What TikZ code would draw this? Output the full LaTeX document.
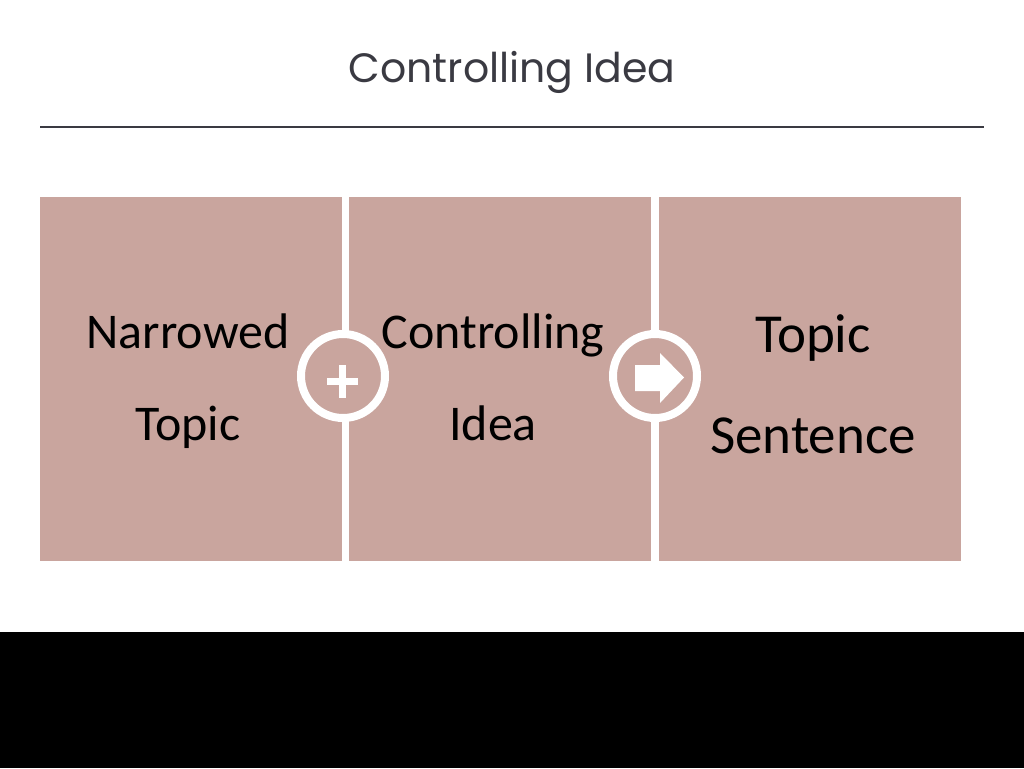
\documentclass[tikz,border=0pt]{standalone}
\usepackage{fontspec}
\setmainfont{Carlito}
\newfontfamily\titlefont{Poppins}
\definecolor{rose}{HTML}{C9A59E}
\definecolor{titlegray}{HTML}{3A3A42}
\tikzset{
  panel/.style={fill=rose, draw=none, minimum width=302pt, minimum height=364pt, inner sep=0pt},
  ring/.style={circle, fill=rose, draw=white, line width=8pt, minimum size=84pt, inner sep=0pt},
  lbl/.style={align=center, font=\fontsize{50}{92}\selectfont}
}
\begin{document}
\begin{tikzpicture}[x=1pt, y=-1pt]
      \useasboundingbox (0, 0) rectangle (1024, 768);
      % title
      \node[font=\titlefont\fontsize{41}{48}\selectfont, text=titlegray] (title) at (512, 72) {Controlling Idea};
      \draw[titlegray, line width=1.2pt] (40, 127) coordinate (rulel) -- (984, 127) coordinate (ruler);
      % boxes
      \node[panel] (narrow) at (191, 379) {};
      \node[panel] (ctrl) at (500, 379) {};
      \node[panel] (sent) at (809.5, 379) {};
      \node[lbl] at (188, 381) {Narrowed\\Topic};
      \node[lbl] at (493, 377) {Controlling\\Idea};
      \node[lbl, font=\fontsize{55}{101}\selectfont] at (813, 384) {Topic\\Sentence};
      % circles
      \node[ring] (plus) at (343, 376) {};
      \node[ring] (arrow) at (655, 376) {};
      \fill[white] (327, 378) rectangle (358, 385);
      \fill[white] (339, 365) rectangle (346, 398);
      \fill[white] (635, 365) -- (660, 365) -- (660, 353) -- (684, 377.5) -- (660, 403) -- (660, 391) -- (635, 391) -- cycle;
      % footer
      \fill[black] (0, 632) rectangle (1024, 768);
\end{tikzpicture}
\end{document}
